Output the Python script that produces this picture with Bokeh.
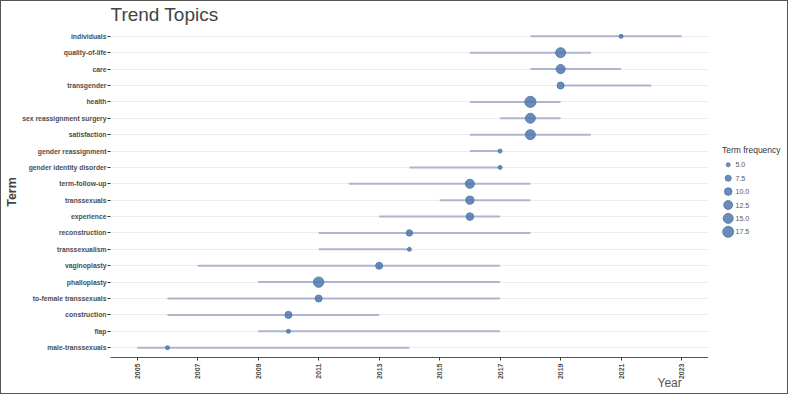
import math

from bokeh.core.properties import value
from bokeh.embed import file_html
from bokeh.layouts import row
from bokeh.models import ColumnDataSource, FixedTicker, Range1d
from bokeh.plotting import figure
from bokeh.resources import INLINE

# Trend topics, listed from top to bottom
terms = [
    "individuals", "quality-of-life", "care", "transgender", "health",
    "sex reassignment surgery", "satisfaction", "gender reassignment",
    "gender identity disorder", "term-follow-up", "transsexuals", "experience",
    "reconstruction", "transsexualism", "vaginoplasty", "phalloplasty",
    "to-female transsexuals", "construction", "flap", "male-transsexuals",
]
start_year = [2018, 2016, 2018, 2019, 2016, 2017, 2016, 2016, 2014, 2012,
              2015, 2013, 2011, 2011, 2007, 2009, 2006, 2006, 2009, 2005]
end_year = [2023, 2020, 2021, 2022, 2019, 2019, 2020, 2017, 2017, 2018,
            2018, 2017, 2018, 2014, 2017, 2017, 2017, 2013, 2017, 2014]
peak_year = [2021, 2019, 2019, 2019, 2018, 2018, 2018, 2017, 2017, 2016,
             2016, 2016, 2014, 2014, 2013, 2011, 2011, 2010, 2010, 2006]
term_freq = [5, 15, 13, 9, 18, 15, 15, 5, 5, 13,
             11, 10, 8, 5, 9, 16, 9, 9, 5, 5]

year_ticks = [2005, 2007, 2009, 2011, 2013, 2015, 2017, 2019, 2021, 2023]
legend_freq = [5.0, 7.5, 10.0, 12.5, 15.0, 17.5]
legend_text = ["5.0", "7.5", "10.0", "12.5", "15.0", "17.5"]

FONT = "Liberation Sans"
DOT = "#4f78ab"
SEGMENT = "#aeb6cf"


def dot_size(freq):
    # point area grows linearly with the term frequency
    return math.sqrt(16 + (freq - 5) * 8.4)


n = len(terms)
row_pos = [n - 1 - i for i in range(n)]

src = ColumnDataSource(dict(
    term=terms, y=row_pos, start=start_year, end=end_year,
    peak=peak_year, size=[dot_size(f) for f in term_freq],
))

p = figure(
    width=707, height=392,
    x_range=Range1d(2004.117, 2023.89), y_range=Range1d(-0.6, n - 0.4),
    output_backend="svg", toolbar_location=None,
    min_border_left=109, min_border_right=0, min_border_top=25, min_border_bottom=36,
    title="Trend Topics",
)
p.frame_align = False
p.outline_line_color = None
p.background_fill_color = "white"
p.border_fill_color = "white"

p.title.text_font = FONT
p.title.text_font_size = "19px"
p.title.text_font_style = "normal"
p.title.text_color = "#444444"
p.title.standoff = 0
p.title.offset = 0
p.title.vertical_align = "top"

p.segment(x0="start", y0="y", x1="end", y1="y", source=src,
          line_color=SEGMENT, line_width=2)
p.scatter(x="peak", y="y", size="size", source=src,
          fill_color=DOT, line_color=DOT, fill_alpha=0.85, line_alpha=0.85)

# grid: horizontal only
p.xgrid.visible = False
p.ygrid.grid_line_color = "#ececec"
p.ygrid.grid_line_width = 1

# y axis: term names
p.yaxis.ticker = FixedTicker(ticks=row_pos)
p.yaxis.major_label_overrides = {y: t for y, t in zip(row_pos, terms)}
p.yaxis.axis_line_color = None
p.yaxis.major_tick_in = 0
p.yaxis.major_tick_out = 3
p.yaxis.major_tick_line_color = "#333333"
p.yaxis.minor_tick_line_color = None
p.yaxis.major_label_text_font = FONT
p.yaxis.major_label_text_font_size = "6.8px"
p.yaxis.major_label_text_font_style = "bold"
p.yaxis.major_label_text_color = "#4d4d4d"
p.yaxis.major_label_standoff = 1
p.yaxis.axis_label = "Term"
p.yaxis.axis_label_text_font = FONT
p.yaxis.axis_label_text_font_size = "12.5px"
p.yaxis.axis_label_text_font_style = "bold"
p.yaxis.axis_label_text_color = "#444444"
p.yaxis.axis_label_standoff = 0

# x axis: years
p.xaxis.ticker = FixedTicker(ticks=year_ticks)
p.xaxis.major_label_orientation = math.pi / 2
p.xaxis.axis_line_color = "#555555"
p.xaxis.axis_line_width = 1
p.xaxis.major_tick_in = 0
p.xaxis.major_tick_out = 3
p.xaxis.major_tick_line_color = "#333333"
p.xaxis.minor_tick_line_color = None
p.xaxis.major_label_text_font = FONT
p.xaxis.major_label_text_font_size = "7px"
p.xaxis.major_label_text_font_style = "bold"
p.xaxis.major_label_text_color = "#4d4d4d"
p.xaxis.major_label_standoff = 3

# right-hand overlay panel (pixel-like coordinates): axis title and size legend
lf = figure(
    width=140, height=392, x_range=Range1d(647, 787), y_range=Range1d(393, 1),
    output_backend="svg", toolbar_location=None, min_border=0,
    margin=(0, 0, 0, -61),
)
lf.frame_align = False
lf.axis.visible = False
lf.grid.visible = False
lf.outline_line_color = None
lf.background_fill_color = None
lf.border_fill_color = None

lf.text(x=[657], y=[382], text=["Year"],
        text_font=value(FONT), text_font_size="12px", text_color="#555555",
        text_baseline="middle", text_align="left")

leg_y = [164.3 + 13.4 * i for i in range(len(legend_freq))]
lf.scatter(x=[727.7] * len(legend_freq), y=leg_y,
           size=[dot_size(f) for f in legend_freq],
           fill_color=DOT, line_color=DOT, fill_alpha=0.85, line_alpha=0.85)
lf.text(x=[735] * len(legend_freq), y=leg_y, text=legend_text,
        text_font=value(FONT), text_font_size="7px", text_color="#555555",
        text_baseline="middle", text_align="left")
lf.text(x=[721.5], y=[149], text=["Term frequency"],
        text_font=value(FONT), text_font_size="8.5px", text_color="#333333",
        text_baseline="middle", text_align="left")

layout = row(p, lf, styles={"border": "1px solid #555555"})
open("out.html", "w").write(file_html(layout, INLINE))
